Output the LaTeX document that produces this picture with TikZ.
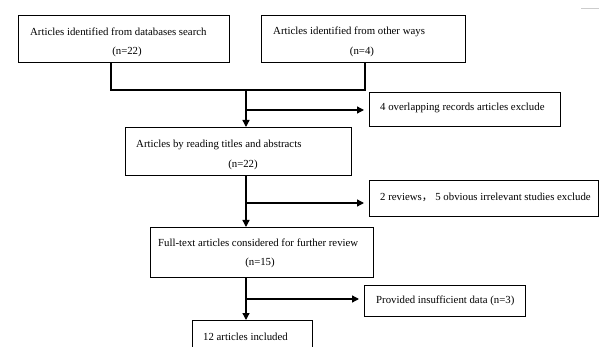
\documentclass[tikz,border=0pt]{standalone}
\usepackage{fontspec}
\setmainfont{Liberation Serif}
\newfontfamily\cjkfont{Noto Sans CJK SC}
\usetikzlibrary{arrows.meta}
\begin{document}
\begin{tikzpicture}[x=1pt,y=-1pt,
  boxst/.style={draw=black,line width=1.4pt,rectangle,inner sep=0pt,anchor=north west},
  txt/.style={font=\fontsize{10.8}{12}\selectfont,inner sep=0pt,anchor=west},
  conn/.style={line width=1.3pt},
  arr/.style={line width=1.3pt,-{Triangle[length=7pt,width=7pt]}}]
\useasboundingbox (0,0) rectangle (599,347);
\clip (0,0) rectangle (599,347);
\fill[white] (0,0) rectangle (599,347);
% boxes
\node[boxst,minimum width=211pt,minimum height=47pt] (b1) at (18,15) {};
\node[boxst,minimum width=204pt,minimum height=47pt] (b2) at (261,15) {};
\node[boxst,minimum width=191pt,minimum height=34pt] (e1) at (369,92) {};
\node[boxst,minimum width=226pt,minimum height=48pt] (b3) at (125,127) {};
\node[boxst,minimum width=229pt,minimum height=36pt] (e2) at (369,180) {};
\node[boxst,minimum width=223pt,minimum height=50pt] (b4) at (150,227) {};
\node[boxst,minimum width=161pt,minimum height=31pt] (e3) at (364,285) {};
\node[boxst,minimum width=120pt,minimum height=50pt] (b5) at (192,320) {};
% texts
\node[txt] (t1a) at (30,32) {Articles identified from databases search};
\node[txt,anchor=center] (t1b) at (127,52) {(n=22)};
\node[txt] (t2a) at (273,32) {Articles identified from other ways};
\node[txt,anchor=center] (t2b) at (362,52) {(n=4)};
\node[txt] (te1) at (380,108) {4 overlapping records articles exclude};
\node[txt] (t3a) at (136,145) {Articles by reading titles and abstracts};
\node[txt,anchor=center] (t3b) at (243,165) {(n=22)};
\node[txt] (te2) at (380,197) {2 reviews{\cjkfont ，}\ 5 obvious irrelevant studies exclude};
\node[txt] (t4a) at (158,243) {Full-text articles considered for further review};
\node[txt,anchor=center] (t4b) at (260,263) {(n=15)};
\node[txt] (te3) at (376,301) {Provided insufficient data (n=3)};
\node[txt] (t5) at (203,337) {12 articles included};
% small mark top right
\draw[gray!40,line width=0.6pt] (581,8) -- (599,8);
% connectors
\coordinate (j1) at (111,90);
\coordinate (j2) at (365,90);
\coordinate (jm) at (246,90);
\coordinate (k1) at (246,110);
\coordinate (k2) at (246,203);
\coordinate (k3) at (246,299);
\draw[conn] (b1.south -| j1) -- (j1) -- (j2) -- (b2.south -| j2);
\draw[arr] (jm) -- (b3.north -| jm);
\draw[arr,shorten >=5pt] (k1) -- (e1.west |- k1);
\draw[arr] (b3.south -| jm) -- (b4.north -| jm);
\draw[arr,shorten >=5pt] (k2) -- (e2.west |- k2);
\draw[arr] (b4.south -| jm) -- (b5.north -| jm);
\draw[arr,shorten >=5pt] (k3) -- (e3.west |- k3);
\end{tikzpicture}
\end{document}
